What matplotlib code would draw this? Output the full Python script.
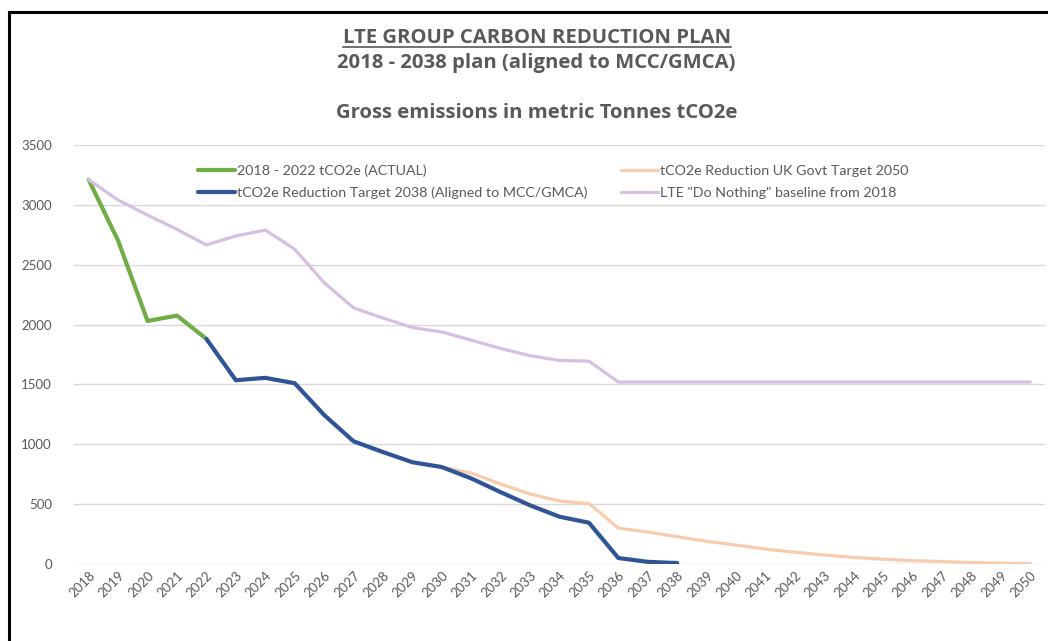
import matplotlib
matplotlib.use("Agg")
import matplotlib.pyplot as plt
from matplotlib.lines import Line2D

plt.rcParams['font.family'] = ['Lato', 'DejaVu Sans']

# data (tCO2e)
years = list(range(2018, 2051))
actual_years = list(range(2018, 2023))
actual = [3210, 2700, 2030, 2075, 1880]
target_years = list(range(2022, 2039))
target_2038 = [1880, 1535, 1555, 1510, 1245, 1025, 935, 850, 810,
               715, 600, 490, 395, 345, 50, 18, 8]
uk_years = list(range(2022, 2051))
uk_target = [1880, 1535, 1555, 1510, 1245, 1025, 935, 850, 810,
             760, 668, 585, 526, 505, 300, 267, 228, 190, 158,
             125, 98, 75, 55, 40, 28, 20, 12, 7, 3]
baseline = [3210, 3040, 2915, 2795, 2665, 2740, 2790, 2630, 2350, 2140,
            2055, 1975, 1938, 1870, 1800, 1740, 1700, 1695, 1520, 1520,
            1520, 1520, 1520, 1520, 1520, 1520, 1520, 1520, 1520, 1520,
            1520, 1520, 1520]

labels = ["2018 - 2022 tCO2e (ACTUAL)",
          "tCO2e Reduction UK Govt Target 2050",
          "tCO2e Reduction Target 2038 (Aligned to MCC/GMCA)",
          'LTE "Do Nothing" baseline from 2018']

grijs = "#595959"

fig = plt.figure(figsize=(10.48, 6.41), dpi=100)
ax = fig.add_axes([74 / 1048, 1 - 564 / 641, (1045 - 74) / 1048, (564 - 145) / 641])

l_groen, = ax.plot(actual_years, actual, color="#70AD47", lw=3, solid_capstyle="round", label=labels[0])
l_oranje, = ax.plot(uk_years, uk_target, color="#F8CBAD", lw=2.3, solid_capstyle="round", label=labels[1])
l_blauw, = ax.plot(target_years, target_2038, color="#2F5597", lw=3, solid_capstyle="round", label=labels[2])
l_paars, = ax.plot(years, baseline, color="#D5C0E2", lw=2.3, solid_capstyle="round", label=labels[3])

ax.set_xlim(2017.5, 2050.5)
ax.set_ylim(0, 3500)
ax.set_yticks(range(0, 3501, 500))
ax.set_xticks(years)
ax.set_xticklabels([str(j) for j in years], rotation=45, ha="right",
                   rotation_mode="anchor", fontsize=9.5, color=grijs)
ax.tick_params(axis="y", labelsize=9.5, labelcolor=grijs, length=0, pad=16)
ax.tick_params(axis="x", length=0, pad=4)
ax.grid(axis="y", color="#D9D9D9", lw=1)
ax.set_axisbelow(True)
for s in ax.spines.values():
    s.set_visible(False)

leg = ax.legend(handles=[l_groen, l_blauw, l_oranje, l_paars], ncol=2,
                loc="upper left", bbox_to_anchor=(198 / 1048, 1 - 164 / 641),
                bbox_transform=fig.transFigure, frameon=False, fontsize=10.3,
                handlelength=2.6, handletextpad=0.15, labelspacing=0.72,
                columnspacing=2.3, borderaxespad=0, borderpad=0)
for t in leg.get_texts():
    t.set_color(grijs)

titel_font = ['Open Sans', 'DejaVu Sans']
t1 = fig.text(0.512, 1 - 38 / 641, "LTE GROUP CARBON REDUCTION PLAN", ha="center", va="center",
              fontsize=14.6, fontweight="bold", color=grijs, family=titel_font)
fig.text(0.512, 1 - 63 / 641, "2018 - 2038 plan (aligned to MCC/GMCA)", ha="center", va="center",
         fontsize=14.6, fontweight="bold", color=grijs, family=titel_font)
fig.text(0.512, 1 - 113 / 641, "Gross emissions in metric Tonnes tCO2e", ha="center", va="center",
         fontsize=14.6, fontweight="bold", color=grijs, family=titel_font)

# onderstreping van de eerste titelregel
fig.canvas.draw()
bb = t1.get_window_extent().transformed(fig.transFigure.inverted())
fig.add_artist(Line2D([bb.x0, bb.x1], [bb.y0 + 0.002, bb.y0 + 0.002], color=grijs, lw=1.2,
                      transform=fig.transFigure))

# zwarte rand links en boven
fig.add_artist(Line2D([9 / 1048, 9 / 1048], [0, 1 - 12 / 641], color="black", lw=2.2, transform=fig.transFigure))
fig.add_artist(Line2D([9 / 1048, 1], [1 - 12 / 641, 1 - 12 / 641], color="black", lw=2.2, transform=fig.transFigure))

fig.savefig("out.png", dpi=100)
